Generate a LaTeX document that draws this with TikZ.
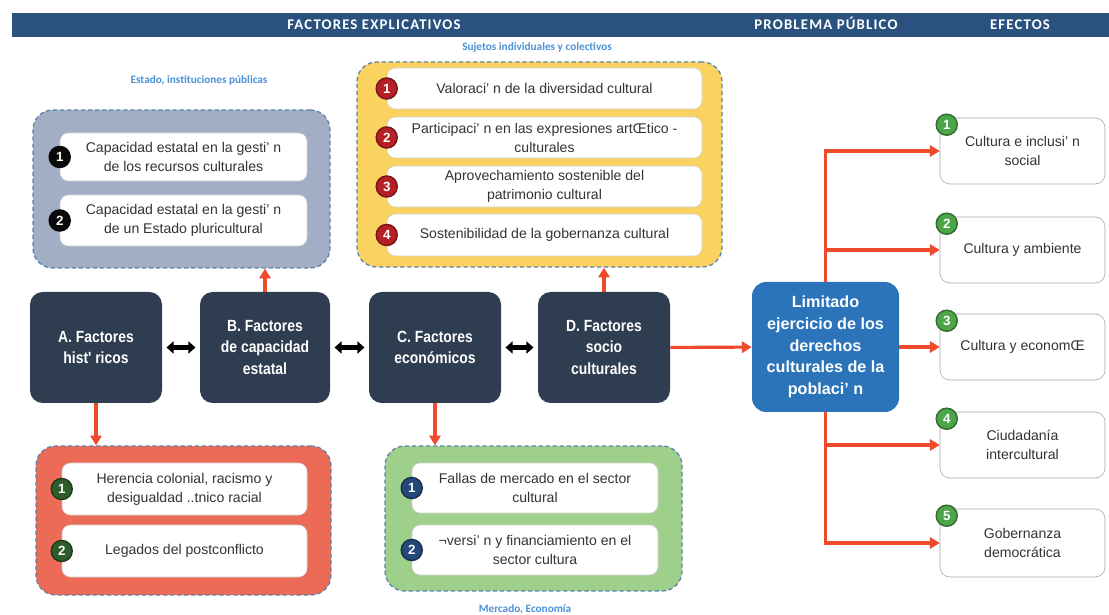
\documentclass[tikz,border=0pt]{standalone}
\usepackage{fontspec}
\setmainfont{Liberation Sans}
\newfontfamily\capfont{Carlito}
\newfontfamily\hdrfont[LetterSpace=8]{Carlito}
\newfontfamily\narrowfont[FakeStretch=0.86]{Liberation Sans}
\usetikzlibrary{arrows.meta}
\definecolor{hdrblue}{HTML}{2B527E}
\definecolor{grpline}{HTML}{5B82AE}
\definecolor{ggrey}{HTML}{A2AEC3}
\definecolor{gyel}{HTML}{F9D260}
\definecolor{gred}{HTML}{EC6B56}
\definecolor{ggrn}{HTML}{9FD08B}
\definecolor{facblue}{HTML}{2F3D51}
\definecolor{probblue}{HTML}{2B74BA}
\definecolor{linkred}{HTML}{EE4A2B}
\definecolor{lblblue}{HTML}{4A92D6}
\definecolor{txt}{HTML}{333333}
\definecolor{nblack}{HTML}{0A0A0A}
\definecolor{nred}{HTML}{B51F25}
\definecolor{ndkgrn}{HTML}{2E5C2A}
\definecolor{nnavy}{HTML}{24487A}
\definecolor{ngrn}{HTML}{4CA548}

\begin{document}
\begin{tikzpicture}[
    x=0.025cm, y=-0.025cm,
    span/.style args={#1:#2:#3:#4}{at={({(#1+#3)/2},{(#2+#4)/2})},
        minimum width={(#3-#1)*0.025cm}, minimum height={(#4-#2)*0.025cm}},
    hdr/.style={fill=hdrblue, inner sep=0pt},
    htext/.style={font=\hdrfont\bfseries\fontsize{10.5}{12}\selectfont, text=white, anchor=base},
    grp/.style={draw=grpline, dash pattern=on 3pt off 2pt, line width=0.9pt,
        rounded corners=14pt, inner sep=0pt},
    lbl/.style={font=\capfont\bfseries\fontsize{8}{10}\selectfont, text=lblblue},
    item/.style={draw=black!18, fill=white, rounded corners=6pt, inner sep=0pt,
        align=center, text=txt, font=\fontsize{10}{13.5}\selectfont},
    num/.style={circle, fill=#1, draw=#1!65!black, line width=1pt, text=white,
        font=\fontsize{9.5}{9.5}\selectfont\bfseries, minimum size=15pt, inner sep=0pt},
    fac/.style={fill=facblue, rounded corners=9pt, inner sep=0pt, align=center,
        text=white, font=\narrowfont\bfseries\fontsize{11.5}{15}\selectfont},
    prob/.style={fill=probblue, rounded corners=10pt, inner sep=0pt, align=center,
        text=white, font=\bfseries\fontsize{11.5}{15.4}\selectfont},
    eff/.style={draw=black!35, fill=white, rounded corners=7pt, inner sep=0pt,
        align=center, text=txt, font=\fontsize{10}{13.5}\selectfont},
    link/.style={draw=linkred, line width=2.2pt, -{Triangle[length=7pt, width=8pt]}},
    twoway/.style={draw=black, line width=3pt, shorten <=3pt, shorten >=3pt,
        {Triangle[length=5pt, width=8.5pt]}-{Triangle[length=5pt, width=8.5pt]}},
]
\useasboundingbox (0,0) rectangle (1109,615);

% ---------------------------------------------------------------- header
\node[hdr, span=12:13:1109:37] (bar) {};
\node[htext] (hFac) at (374,29.5) {FACTORES EXPLICATIVOS};
\node[htext] (hProb) at (826,29.5) {PROBLEMA PÚBLICO};
\node[htext] (hEff) at (1020,29.5) {EFECTOS};

% ---------------------------------------------------------------- groups
\node[grp, fill=ggrey, span=33:110:330:268] (gEst) {};
\node[grp, fill=gyel, span=357:62:722:267] (gSuj) {};
\node[grp, fill=gred, span=36:446:331:595] (gHis) {};
\node[grp, fill=ggrn, span=385:446:682:591] (gMer) {};

\node[lbl] (lEst) at (199,80) {Estado, instituciones públicas};
\node[lbl] (lSuj) at (537,48) {Sujetos individuales y colectivos};
\node[lbl] (lMer) at (525,609) {Mercado, Economía};

\foreach \i/\ya/\yb/\t in {1/133/181/{Capacidad estatal en la gesti' n\\de los recursos culturales},
                           2/195/246/{Capacidad estatal en la gesti' n\\de un Estado pluricultural}}{
    \node[item, span=60:\ya:307:\yb] (est\i) {\t};
    \node[num=nblack] (nEst\i) at (est\i.west) {\i};
}
\foreach \i/\ya/\yb/\t in {1/68/109/{Valoraci' n de la diversidad cultural},
                           2/117/158/{Participaci' n en las expresiones artŒtico -\\culturales},
                           3/166/207/{Aprovechamiento sostenible del\\patrimonio cultural},
                           4/214/256/{Sostenibilidad de la gobernanza cultural}}{
    \node[item, span=387:\ya:702:\yb] (suj\i) {\t};
    \node[num=nred] (nSuj\i) at (suj\i.west) {\i};
}
\foreach \i/\ya/\yb/\t in {1/463/515/{Herencia colonial, racismo y\\desigualdad ..tnico racial},
                           2/525/577/{Legados del postconflicto}}{
    \node[item, span=62:\ya:307:\yb] (his\i) {\t};
    \node[num=ndkgrn] (nHis\i) at (his\i.west) {\i};
}
\foreach \i/\ya/\yb/\t in {1/463/513/{Fallas de mercado en el sector\\cultural},
                           2/525/575/{¬versi' n y financiamiento en el\\sector cultura}}{
    \node[item, span=412:\ya:658:\yb] (mer\i) {\t};
    \node[num=nnavy] (nMer\i) at (mer\i.west) {\i};
}

% ---------------------------------------------------------------- factors
\foreach \n/\xa/\xb/\t in {A/30/162/{A. Factores\\hist' ricos},
                           B/200/330/{B. Factores\\de capacidad\\estatal},
                           C/369/501/{C. Factores\\económicos},
                           D/538/670/{D. Factores\\socio\\culturales}}{
    \node[fac, span=\xa:292:\xb:403] (fac\n) {\t};
}
\foreach \a/\b in {A/B, B/C, C/D}{
    \draw[twoway] (fac\a) -- (fac\b);
}

\draw[link] (facB.north) -- (facB.north |- gEst.south);
\draw[link] (facD.north) -- (facD.north |- gSuj.south);
\draw[link] (facA.south) -- (facA.south |- gHis.north);
\draw[link] (facC.south) -- (facC.south |- gMer.north);

% ---------------------------------------------------------------- problem and effects
\node[prob, span=752:282:899:412] (prob)
    {Limitado\\ejercicio de los\\derechos\\culturales de la\\poblaci' n};
\draw[link] (facD) -- (prob);

\foreach \i/\ya/\yb/\t in {1/118/184/{Cultura e inclusi' n\\social},
                           2/217/283/{Cultura y ambiente},
                           3/314/380/{Cultura y economŒ},
                           4/412/478/{Ciudadanía\\intercultural},
                           5/509/577/{Gobernanza\\democrática}}{
    \node[eff, span=940:\ya:1105:\yb] (eff\i) {\t};
    \node[num=ngrn] (nEff\i) at ([shift={(7,7)}]eff\i.north west) {\i};
}
\foreach \i in {1,2}{
    \draw[link] (prob.north) |- (eff\i.west);
}
\draw[link] (prob) -- (eff3);
\foreach \i in {4,5}{
    \draw[link] (prob.south) |- (eff\i.west);
}

\end{tikzpicture}
\end{document}
